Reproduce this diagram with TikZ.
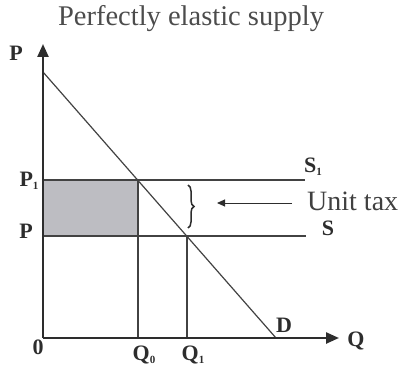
\documentclass[tikz,border=0pt]{standalone}
\usepackage{fontspec}
\setmainfont{Liberation Serif}
\usetikzlibrary{decorations.pathreplacing,arrows.meta}
\definecolor{taxfill}{RGB}{189,189,194}
\definecolor{ink}{RGB}{45,45,45}
\newcommand\lowsub[1]{\raisebox{-3pt}{\fontsize{11}{11}\selectfont #1}}
\begin{document}
\begin{tikzpicture}[x=1pt,y=-1pt,
  axisline/.style={line width=2.4pt, draw=ink, -{Triangle[length=13pt,width=11pt]}},
  curveline/.style={line width=1.2pt, draw=ink!90},
  guide/.style={line width=1.1pt, draw=ink!90},
  lbl/.style={font=\fontsize{22}{22}\selectfont\bfseries, text=ink, inner sep=0pt},
  titletext/.style={font=\fontsize{28.5}{28.5}\selectfont, text=black!70, inner sep=0pt},
  notetext/.style={font=\fontsize{28}{28}\selectfont, text=black!75, inner sep=0pt, anchor=west}
]
\useasboundingbox (0,0) rectangle (398,366);
% coordinates
\coordinate (O) at (43,338);
\coordinate (ytip) at (43,44);
\coordinate (xtip) at (339,338);
\coordinate (dtop) at (43,72);
\coordinate (dbot) at (276,338);
\coordinate (p1l) at (43,180);
\coordinate (p1r) at (305,180);
\coordinate (pl) at (43,236);
\coordinate (pr) at (306,236);
\coordinate (e0) at (138,180);
\coordinate (e1) at (187,236);
\coordinate (q0) at (138,338);
\coordinate (q1) at (187,338);
\coordinate (arrs) at (292,203);
\coordinate (arre) at (217,203);
% shaded tax revenue
\fill[taxfill] (p1l) rectangle (e0 |- pl);
% supply lines
\draw[guide] (p1l) -- (p1r);
\draw[guide] (pl) -- (pr);
% verticals
\draw[guide] (e0) -- (q0);
\draw[guide] (e1) -- (q1);
% demand
\draw[curveline] (dtop) -- (dbot);
% axes
\draw[axisline] (O) -- (ytip);
\draw[axisline] (O) -- (xtip);
% brace
\draw[line width=1.5pt, draw=ink, decorate, decoration={brace, amplitude=6pt}] (188,185) -- (188,228);
% arrow for unit tax
\draw[line width=1pt, draw=ink, -{Triangle[length=8pt,width=7pt]}] (arrs) -- (arre);
% labels
\node[titletext] (title) at (191,19) {Perfectly elastic supply};
\node[lbl] (lp) at (16,53) {P};
\node[lbl] (lp1) at (29,181) {P\lowsub{1}};
\node[lbl] (lpp) at (26,231) {P};
\node[lbl] (ls1) at (313,167) {S\lowsub{1}};
\node[lbl] (ls) at (328,228) {S};
\node[notetext] (tax) at (307,201) {Unit tax};
\node[lbl] (lo) at (38,347) {0};
\node[lbl] (lq0) at (144,355) {Q\lowsub{0}};
\node[lbl] (lq1) at (193,355) {Q\lowsub{1}};
\node[lbl] (ld) at (284,325) {D};
\node[lbl] (lq) at (356,341) {Q};
\end{tikzpicture}
\end{document}
